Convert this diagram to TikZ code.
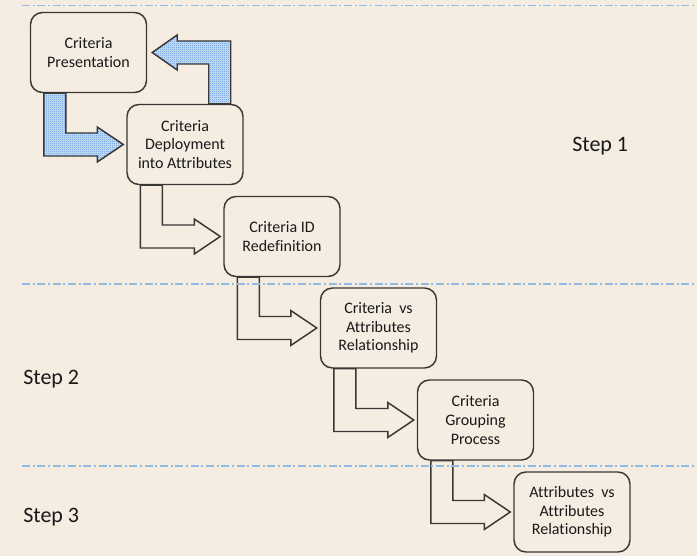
\documentclass[tikz,border=0pt]{standalone}
\usepackage{fontspec}
\setmainfont{Carlito}[RawFeature={-liga}]
\usetikzlibrary{calc,patterns,backgrounds}
\definecolor{bg}{RGB}{245,236,226}
\definecolor{edge}{RGB}{58,56,54}
\definecolor{sepc}{RGB}{145,186,228}
\definecolor{chk}{RGB}{85,145,218}
\definecolor{chkbase}{RGB}{205,224,245}
\definecolor{txt}{RGB}{25,25,25}
\pgfdeclarepatternformonly{finecheck}{\pgfpointorigin}{\pgfqpoint{1.5pt}{1.5pt}}{\pgfqpoint{1.5pt}{1.5pt}}{%
  \pgfpathrectangle{\pgfpointorigin}{\pgfqpoint{0.75pt}{0.75pt}}%
  \pgfpathrectangle{\pgfqpoint{0.75pt}{0.75pt}}{\pgfqpoint{0.75pt}{0.75pt}}%
  \pgfusepath{fill}}
\tikzset{
  box/.style={draw=edge, line width=1.1pt, rounded corners=9pt, fill=bg,
    minimum width=87pt, minimum height=60pt, align=center, inner sep=0pt,
    font=\fontsize{12}{14}\selectfont, text=txt},
  whitearrow/.style={draw=edge, line width=1.1pt, line join=miter},
  bluearrow/.style={draw=edge, line width=1.1pt, line join=miter,
    preaction={fill=chkbase}, pattern=finecheck, pattern color=chk},
  sepline/.style={draw=sepc, line width=0.8pt, dash pattern=on 6pt off 2pt on 1.5pt off 2pt},
  steplabel/.style={anchor=base west, inner sep=0pt, font=\fontsize{16.5}{20}\selectfont, text=txt}
}
\newcommand\bentto[3]{%
  \path[#3] let \p1=(#1.south west), \p2=(#2.west) in
  ({\x1+10.5pt},\y1) -- ({\x1+10.5pt},{\y2-8.625pt}) -- ({\x2-21.75pt},{\y2-8.625pt})
  -- ({\x2-21.75pt},{\y2-13.125pt}) -- ({\x2-2.25pt},\y2) -- ({\x2-21.75pt},{\y2+13.125pt})
  -- ({\x2-21.75pt},{\y2+8.625pt}) -- ({\x1+27pt},{\y2+8.625pt}) -- ({\x1+27pt},\y1) -- cycle;}
\begin{document}
\begin{tikzpicture}[x=0.75pt,y=-0.75pt]
\useasboundingbox (0,0) rectangle (697,556);
\node[box] (b1) at (88.5,52.5) {Criteria\\Presentation};
\node[box] (b2) at (185,144.5) {Criteria\\Deployment\\into Attributes};
\node[box] (b3) at (282,236.5) {Criteria ID\\Redefinition};
\node[box] (b4) at (378.5,328) {Criteria\ \ vs\\Attributes\\Relationship};
\node[box] (b5) at (475.5,420) {Criteria\\Grouping\\Process};
\node[box] (b6) at (572,512) {Attributes\ \ vs\\Attributes\\Relationship};
\node[steplabel] (s1) at (572,152) {Step 1};
\node[steplabel] (s2) at (23,384) {Step 2};
\node[steplabel] (s3) at (23,522) {Step 3};
\begin{scope}[on background layer]
\fill[bg] (0,0) rectangle (697,556);
\bentto{b1}{b2}{bluearrow}
\path[bluearrow] let \p1=(b2.north east), \p2=(b1.east) in
  ({\x1-9.75pt},\y1) -- ({\x1-9.75pt},{\y2+8.625pt}) -- ({\x2+22.5pt},{\y2+8.625pt})
  -- ({\x2+22.5pt},{\y2+13.125pt}) -- ({\x2+3.75pt},\y2) -- ({\x2+22.5pt},{\y2-13.125pt})
  -- ({\x2+22.5pt},{\y2-8.625pt}) -- ({\x1-26.25pt},{\y2-8.625pt}) -- ({\x1-26.25pt},\y1) -- cycle;
\bentto{b2}{b3}{whitearrow}
\bentto{b3}{b4}{whitearrow}
\bentto{b4}{b5}{whitearrow}
\bentto{b5}{b6}{whitearrow}
\coordinate (l1a) at (22,5.5);   \coordinate (l1b) at (697,5.5);
\coordinate (l2a) at (22,284); \coordinate (l2b) at (697,284);
\coordinate (l3a) at (22,466); \coordinate (l3b) at (697,466);
\draw[sepline] (l1a) -- (l1b);
\draw[sepline] (l2a) -- (l2b);
\draw[sepline] (l3a) -- (l3b);
\end{scope}
\end{tikzpicture}
\end{document}
